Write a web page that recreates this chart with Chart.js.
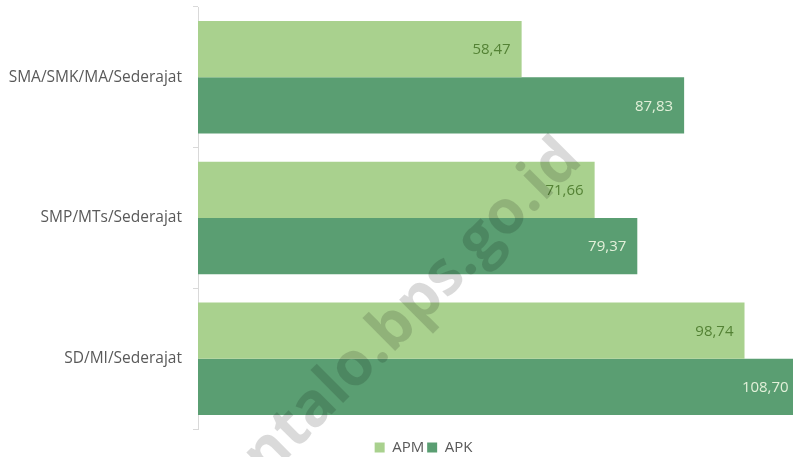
<!DOCTYPE html>
<html>
<head>
<meta charset="utf-8">
<script src="https://cdn.jsdelivr.net/npm/chart.js@4"></script>
<style>
  html, body { margin: 0; padding: 0; background: #fff; }
  #wrap { width: 793px; height: 457px; position: relative; }
</style>
</head>
<body>
<div id="wrap"><canvas id="chart"></canvas></div>
<script>
// kategori jenjang pendidikan (urut dari atas ke bawah)
const categories = ['SMA/SMK/MA/Sederajat', 'SMP/MTs/Sederajat', 'SD/MI/Sederajat']
// Angka Partisipasi Murni
const apm = [58.47, 71.66, 98.74]
// Angka Partisipasi Kasar
const apk = [87.83, 79.37, 108.70]
const seriesNames = ['APM', 'APK']

const FONT = '"Open Sans", "Noto Sans", sans-serif'

// format angka gaya Indonesia: koma desimal
const fmt = v => v.toFixed(2).replace('.', ',')

// label nilai di ujung dalam batang
const valueLabels = {
  id: 'valueLabels',
  afterDatasetsDraw(chart) {
    const ctx = chart.ctx
    const xScale = chart.scales.x
    ctx.save()
    ctx.font = '15px ' + FONT
    ctx.textAlign = 'right'
    ctx.textBaseline = 'middle'
    chart.data.datasets.forEach((ds, i) => {
      const meta = chart.getDatasetMeta(i)
      meta.data.forEach((bar, j) => {
        ctx.fillStyle = i === 0 ? '#548235' : '#e2f0d9'
        const x = xScale.getPixelForValue(ds.data[j]) - 11
        ctx.fillText(fmt(ds.data[j]), x, bar.y + 1)
      })
    })
    ctx.restore()
  },
}

// geser legenda sedikit ke kanan & bawah seperti gambar asli
const legendShift = {
  id: 'legendShift',
  afterLayout(chart) {
    const lg = chart.legend
    lg.left += 27
    lg.right += 27
    lg.top += 8
    lg.bottom += 8
  },
}

// watermark diagonal
const watermark = {
  id: 'watermark',
  afterDraw(chart) {
    const ctx = chart.ctx
    ctx.save()
    ctx.translate(584, 162)
    ctx.rotate(-45 * Math.PI / 180)
    ctx.font = 'bold 61px ' + FONT
    ctx.textAlign = 'right'
    ctx.textBaseline = 'alphabetic'
    ctx.fillStyle = 'rgba(0,0,0,0.145)'
    ctx.fillText('gorontalo.bps.go.id', 0, 0)
    ctx.restore()
  },
}

new Chart(document.getElementById('chart'), {
  type: 'bar',
  data: {
    labels: categories,
    datasets: [
      { label: seriesNames[0], data: apm, backgroundColor: '#a9d18e' },
      { label: seriesNames[1], data: apk, backgroundColor: '#5a9e72' },
    ],
  },
  options: {
    indexAxis: 'y',
    responsive: true,
    maintainAspectRatio: false,
    animation: false,
    layout: { padding: { top: 7, right: 0, bottom: 0, left: 0 } },
    datasets: {
      bar: { categoryPercentage: 0.8, barPercentage: 1.0 },
    },
    plugins: {
      legend: {
        position: 'bottom',
        labels: {
          boxWidth: 10,
          boxHeight: 10,
          padding: 3,
          color: '#595959',
          font: { family: FONT, size: 15 },
        },
      },
      tooltip: { enabled: false },
    },
    scales: {
      x: {
        display: false,
        min: 0,
        max: 107.5,
      },
      y: {
        afterFit: scale => {
          scale.width = 198
          scale.paddingTop = 0
          scale.paddingBottom = 0
        },
        border: { display: true, color: '#d9d9d9' },
        grid: {
          drawOnChartArea: false,
          drawTicks: true,
          tickLength: 5,
          color: '#d9d9d9',
        },
        ticks: {
          padding: 11,
          color: '#595959',
          font: { family: FONT, size: 15.5 },
        },
      },
    },
  },
  plugins: [valueLabels, legendShift, watermark],
})
</script>
</body>
</html>
